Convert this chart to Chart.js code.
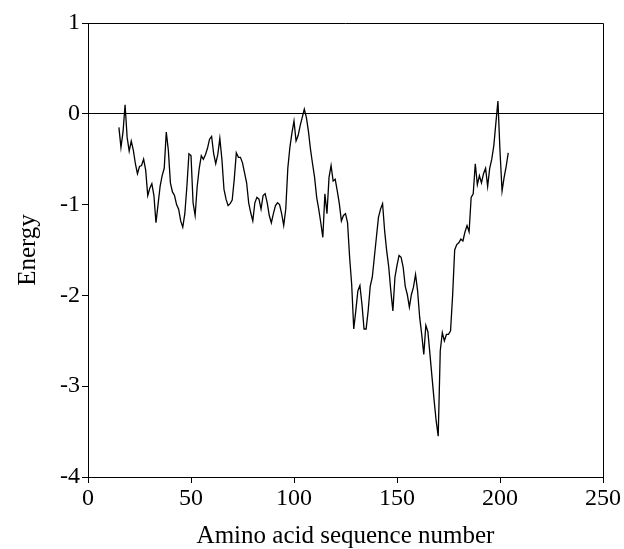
<!DOCTYPE html>
<html>
<head>
<meta charset="utf-8">
<script src="https://cdn.jsdelivr.net/npm/chart.js@4"></script>
<style>
  body { margin: 0; background: #fff; }
</style>
</head>
<body>
<canvas id="energyChart" width="624" height="549"></canvas>
<script>
// residue numbers and energy values
const residues = [];
for (let i = 15; i <= 204; i++) residues.push(i);

const energy = [
  -0.15, -0.37, -0.2, 0.1, -0.26, -0.41, -0.3, -0.4, -0.55, -0.66,
  -0.58, -0.57, -0.5, -0.62, -0.9, -0.82, -0.77, -0.9, -1.2, -1.0,
  -0.8, -0.68, -0.6, -0.2, -0.4, -0.76, -0.86, -0.9, -1.0, -1.05,
  -1.18, -1.25, -1.1, -0.8, -0.44, -0.46, -0.98, -1.12, -0.8, -0.6,
  -0.46, -0.5, -0.45, -0.38, -0.28, -0.25, -0.44, -0.55, -0.45, -0.27,
  -0.5, -0.83, -0.94, -1.01, -0.99, -0.95, -0.72, -0.43, -0.48, -0.48,
  -0.54, -0.65, -0.76, -0.98, -1.09, -1.18, -0.98, -0.92, -0.94, -1.05,
  -0.9, -0.88, -0.98, -1.12, -1.2, -1.1, -1.01, -0.98, -1.0, -1.1,
  -1.23, -1.05, -0.6, -0.37, -0.21, -0.08, -0.3, -0.24, -0.13, -0.04,
  0.05, -0.04, -0.19, -0.39, -0.55, -0.7, -0.92, -1.05, -1.2, -1.36,
  -0.88, -1.1, -0.7, -0.57, -0.74, -0.72, -0.85, -0.99, -1.18, -1.12,
  -1.1, -1.2, -1.58, -1.88, -2.37, -2.17, -1.95, -1.89, -2.1, -2.37,
  -2.37, -2.17, -1.9, -1.8, -1.58, -1.36, -1.14, -1.05, -0.99, -1.29,
  -1.51, -1.69, -1.95, -2.17, -1.8, -1.67, -1.56, -1.58, -1.69, -1.9,
  -1.99, -2.13, -1.99, -1.91, -1.77, -1.95, -2.24, -2.43, -2.65, -2.33,
  -2.4, -2.65, -2.9, -3.15, -3.38, -3.55, -2.61, -2.41, -2.5, -2.43,
  -2.43, -2.39, -2.0, -1.5, -1.44, -1.42, -1.38, -1.4, -1.3, -1.23,
  -1.3, -0.92, -0.88, -0.55, -0.78, -0.68, -0.76, -0.66, -0.6, -0.8,
  -0.6, -0.5, -0.35, -0.1, 0.14, -0.41, -0.85, -0.7, -0.58, -0.43
];

const xTicks = [0, 50, 100, 150, 200, 250];
const yTicks = [-4, -3, -2, -1, 0, 1];

const serif = "'Liberation Serif', 'Times New Roman', serif";

// draws the top and right sides of the frame
const framePlugin = {
  id: "frame",
  afterDraw(chart) {
    const { ctx, chartArea: a } = chart;
    ctx.save();
    ctx.strokeStyle = "#000";
    ctx.lineWidth = 1;
    ctx.beginPath();
    ctx.moveTo(a.left, a.top + 0.5);
    ctx.lineTo(a.right + 0.5, a.top + 0.5);
    ctx.lineTo(a.right + 0.5, a.bottom);
    ctx.stroke();
    ctx.restore();
  }
};

new Chart(document.getElementById("energyChart"), {
  type: "line",
  data: {
    labels: residues,
    datasets: [{
      data: residues.map((r, i) => ({ x: r, y: energy[i] })),
      borderColor: "#000",
      borderWidth: 1.3,
      pointRadius: 0,
      tension: 0,
      fill: false
    }]
  },
  options: {
    responsive: false,
    animation: false,
    layout: { padding: { top: 23, right: 21, left: 0, bottom: 0 } },
    plugins: { legend: { display: false }, tooltip: { enabled: false } },
    scales: {
      x: {
        type: "linear",
        min: 0,
        max: 250,
        afterBuildTicks: (s) => { s.ticks = xTicks.map(v => ({ value: v })); },
        afterFit: (s) => { s.height = 72; },
        border: { display: true, color: "#000", width: 1 },
        grid: { drawOnChartArea: false, tickLength: 6, tickColor: "#000" },
        ticks: { color: "#000", padding: 1, font: { family: serif, size: 24 }, maxRotation: 0 },
        title: {
          display: true,
          text: "Amino acid sequence number",
          color: "#000",
          font: { family: serif, size: 25, lineHeight: 1 },
          padding: { top: 0, bottom: 0 }
        }
      },
      y: {
        min: -4,
        max: 1,
        afterBuildTicks: (s) => { s.ticks = yTicks.map(v => ({ value: v })); },
        afterFit: (s) => { s.width = 88; },
        border: { display: true, color: "#000", width: 1 },
        grid: {
          color: (c) => (c.tick && c.tick.value === 0 ? "#000" : "rgba(0,0,0,0)"),
          tickColor: "#000",
          tickLength: 6
        },
        ticks: { color: "#000", padding: 2, font: { family: serif, size: 24 } },
        title: {
          display: true,
          text: "Energy",
          color: "#000",
          font: { family: serif, size: 25, lineHeight: 1 },
          padding: { top: 16, bottom: 0 }
        }
      }
    }
  },
  plugins: [framePlugin]
});
</script>
</body>
</html>
